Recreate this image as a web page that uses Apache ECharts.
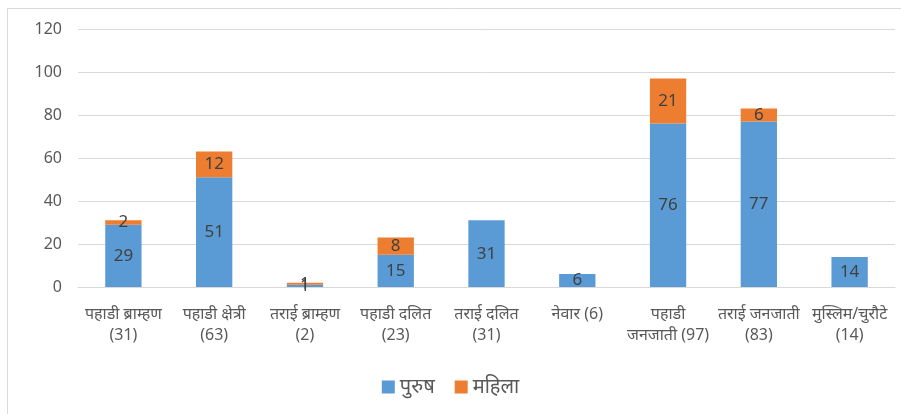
<!DOCTYPE html>
<html><head><meta charset="utf-8">
<script src="https://cdn.jsdelivr.net/npm/echarts@6/dist/echarts.min.js"></script>
<style>html,body{margin:0;padding:0;background:#fff}#c{width:901px;height:414px}</style>
</head><body><div id="c"></div>
<script>
const categories = ['पहाडी ब्राम्हण\n(31)','पहाडी क्षेत्री\n(63)','तराई ब्राम्हण\n(2)','पहाडी दलित\n(23)','तराई दलित\n(31)','नेवार (6)','पहाडी\nजनजाती (97)','तराई जनजाती\n(83)','मुस्लिम/चुरौटे\n(14)'];
const male = [29, 51, 1, 15, 31, 6, 76, 77, 14];
const female = [2, 12, 1, 8, 0, 0, 21, 6, 0];
const seriesNames = ['पुरुष', 'महिला'];
const yTicks = {min: 0, max: 120, interval: 20};

const font = "'Noto Sans', 'Noto Sans Devanagari', 'Liberation Sans', sans-serif";
const chart = echarts.init(document.getElementById('c'));
const lbl = {show: true, position: 'inside', color: '#404040', fontSize: 17, fontFamily: font,
  formatter: p => p.value ? p.value : ''};
chart.setOption({
  animation: false,
  textStyle: {fontFamily: font},
  graphic: [{type: 'rect', shape: {x: 7.5, y: 8.5, width: 900, height: 420}, style: {fill: 'none', stroke: '#d9d9d9', lineWidth: 1}}],
  grid: {left: 78, right: 6, top: 29, bottom: 127},
  legend: {bottom: 12, left: 'center', itemWidth: 13, itemHeight: 13, itemGap: 20, icon: 'rect',
    textStyle: {fontSize: 20, color: '#595959', fontFamily: font}, data: seriesNames},
  xAxis: {type: 'category', data: categories,
    axisLine: {lineStyle: {color: '#d9d9d9'}}, axisTick: {show: false},
    axisLabel: {interval: 0, color: '#595959', fontSize: 16, lineHeight: 21, margin: 17, fontFamily: font}},
  yAxis: {type: 'value', min: yTicks.min, max: yTicks.max, interval: yTicks.interval,
    axisLine: {show: false}, axisTick: {show: false},
    axisLabel: {color: '#595959', fontSize: 16, margin: 16, fontFamily: font},
    splitLine: {lineStyle: {color: '#d9d9d9'}}},
  series: [
    {name: seriesNames[0], type: 'bar', stack: 't', data: male, barWidth: '40%',
     itemStyle: {color: '#5B9BD5'}, label: lbl},
    {name: seriesNames[1], type: 'bar', stack: 't', data: female, barWidth: '40%',
     itemStyle: {color: '#ED7D31'}, label: lbl}
  ]
});
</script></body></html>
